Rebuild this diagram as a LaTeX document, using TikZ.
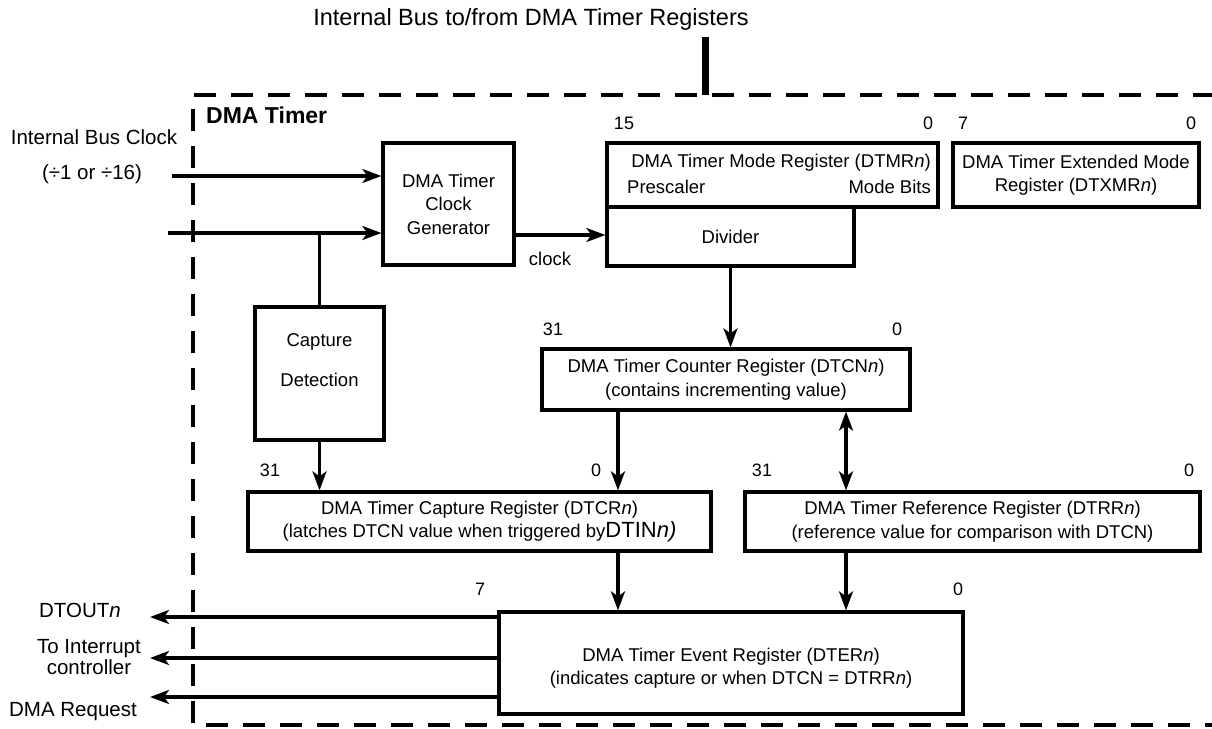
\documentclass[tikz,border=0pt]{standalone}
\usepackage{fontspec}
\setmainfont{Liberation Sans}
\usetikzlibrary{arrows.meta}
\newcommand\bxf{\fontsize{18.5}{23.5}\selectfont}
\newcommand\lbf{\fontsize{20.5}{22}\selectfont}
\newcommand\nmf{\fontsize{18}{20}\selectfont}
\begin{document}
\begin{tikzpicture}[x=1pt,y=-1pt,
  box/.style={draw, line width=3.2pt, inner sep=0pt, align=center, font=\bxf},
  txt/.style={inner sep=0pt, font=\bxf, align=center},
  lbl/.style={inner sep=0pt, font=\lbf, align=center},
  num/.style={inner sep=0pt, font=\nmf},
  arr/.style={line width=3.2pt, -{Stealth[length=19pt,width=14pt,inset=5pt]}},
  darr/.style={line width=3.2pt, {Stealth[length=19pt,width=14pt,inset=5pt]}-{Stealth[length=19pt,width=14pt,inset=5pt]}},
  wire/.style={line width=3.2pt},
  frame/.style={line width=3.2pt, dash pattern=on 22pt off 15pt}]
\useasboundingbox (0,0) rectangle (1212,728);

% title and bus
\node[inner sep=0pt, font=\fontsize{23.5}{24}\selectfont] (title) at (531,19) {Internal Bus to/from DMA Timer Registers};
\node[fill, inner sep=0pt, minimum width=7pt, minimum height=58pt] (bus) at (705,66) {};

% frame
\draw[frame] (1215,95) -- (193,95) -- (193,725) -- (1215,725);
\node[anchor=west, inner sep=0pt, font=\fontsize{23}{24}\selectfont\bfseries] (dmat) at (206,115) {DMA Timer};

% inputs
\node[lbl] (ibc) at (94,137) {Internal Bus Clock};
\node[lbl] (div16) at (92,174) {(÷1 or ÷16)};

% boxes
\node[box, minimum width=131pt, minimum height=122pt] (clk) at (448.5,204) {DMA Timer\\Clock\\Generator};
\node[box, minimum width=331pt, minimum height=64pt] (dtmr) at (772.5,175) {};
\node[txt, anchor=east] (dtmrt) at (931,163) {DMA Timer Mode Register (DTMR\textit{n})};
\node[txt, anchor=west] (presc) at (627,187) {Prescaler};
\node[txt, anchor=east] (mode) at (931,187) {Mode Bits};
\node[box, minimum width=247pt, minimum height=59pt] (div) at (730.5,236.5) {Divider};
\node[box, minimum width=246pt, minimum height=64pt] (dtx) at (1076,175) {DMA Timer Extended Mode\\Register (DTXMR\textit{n})};

\node[num] (n15) at (624,123) {15};
\node[num] (n0a) at (928,123) {0};
\node[num] (n7a) at (963,123) {7};
\node[num] (n0b) at (1191,123) {0};

\node[num] (n31a) at (553,329) {31};
\node[num] (n0c) at (897,329) {0};
\node[box, minimum width=368pt, minimum height=61pt] (dtcn) at (726,379.5) {DMA Timer Counter Register (DTCN\textit{n})\\(contains incrementing value)};

\node[box, minimum width=129pt, minimum height=133pt] (cap) at (319.5,373.5) {};
\node[txt] (captxt) at (319.5,360) {Capture\\[16pt]Detection};

\node[num] (n31b) at (270,470) {31};
\node[num] (n0d) at (596,470) {0};
\node[num] (n31c) at (762,470) {31};
\node[num] (n0e) at (1189,470) {0};
\node[box, minimum width=463pt, minimum height=59pt] (dtcr) at (479.5,521.5) {DMA Timer Capture Register (DTCR\textit{n})\\(latches DTCN value when triggered by{\fontsize{22}{22}\selectfont DTIN\textit{n)}}};
\node[box, minimum width=455pt, minimum height=59pt] (dtrr) at (972.5,521.5) {DMA Timer Reference Register (DTRR\textit{n})\\(reference value for comparison with DTCN)};

\node[num] (n7b) at (480,589) {7};
\node[num] (n0f) at (958,589) {0};
\node[box, minimum width=464pt, minimum height=102pt] (dter) at (731,663) {};
\node[txt] (dtert) at (731,668) {DMA Timer Event Register (DTER\textit{n})\\(indicates capture or when DTCN = DTRR\textit{n})};

% outputs
\node[lbl] (dtout) at (80,610) {DTOUT\textit{n}};
\node[lbl, font=\fontsize{20.5}{21}\selectfont] (intc) at (89,657) {To Interrupt\\controller};
\node[lbl] (dmar) at (73,712) {DMA Request};

% connectors
\coordinate (i1) at (172,176);
\coordinate (i2) at (168,233);
\draw[arr] (i1) -- (i1 -| clk.west);
\draw[arr] (i2) -- (i2 -| clk.west);
\draw[wire] (cap.north |- i2) -- (cap.north);
\coordinate (ck) at (0,235);
\draw[arr] (ck -| clk.east) -- (ck -| div.west);
\node[txt] (clkl) at (550,259) {clock};
\draw[arr] (div.south) -- (div.south |- dtcn.north);
\coordinate (xa) at (618,0);
\coordinate (xb) at (846,0);
\draw[arr] (xa |- dtcn.south) -- (xa |- dtcr.north);
\draw[darr] (xb |- dtcn.south) -- (xb |- dtrr.north);
\draw[arr] (cap.south) -- (cap.south |- dtcr.north);
\draw[arr] (xa |- dtcr.south) -- (xa |- dter.north);
\draw[arr] (xb |- dtrr.south) -- (xb |- dter.north);
\coordinate (o1) at (150,617);
\coordinate (o2) at (150,658);
\coordinate (o3) at (150,697);
\draw[arr] (o1 -| dter.west) -- (o1);
\draw[arr] (o2 -| dter.west) -- (o2);
\draw[arr] (o3 -| dter.west) -- (o3);
\end{tikzpicture}
\end{document}
